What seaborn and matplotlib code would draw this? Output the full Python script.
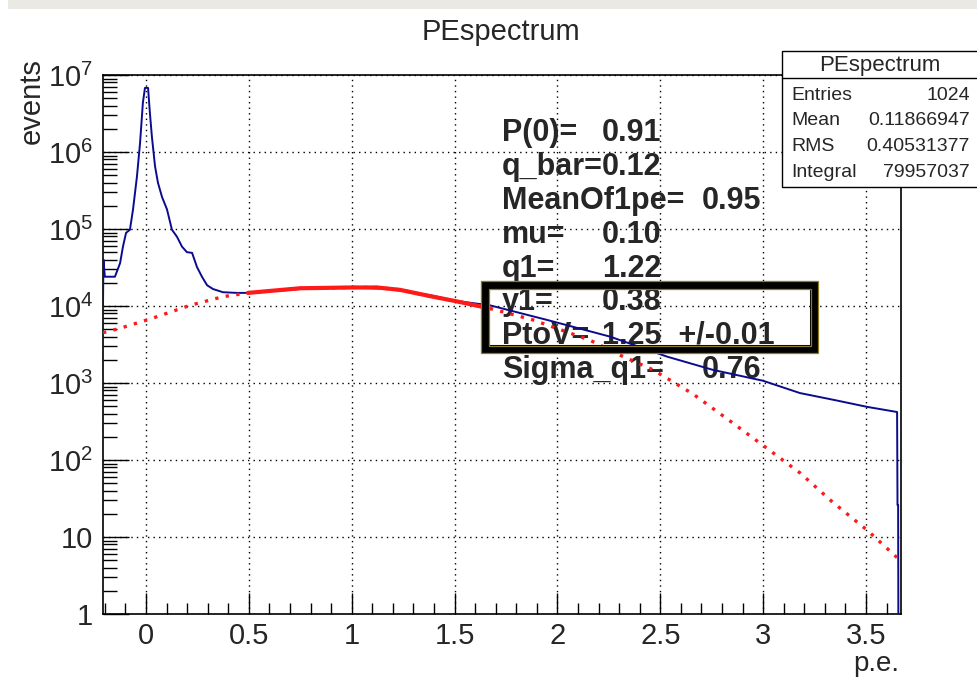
import matplotlib
matplotlib.use("Agg")
import matplotlib.pyplot as plt
import numpy as np
import pandas as pd
import seaborn as sns
from matplotlib.patches import Rectangle
from matplotlib.lines import Line2D
from matplotlib.ticker import FixedLocator, FixedFormatter, LogLocator, MultipleLocator, NullFormatter

# ---------------- data ----------------
hist_x = [-0.209, -0.207, -0.200, -0.151, -0.126, -0.112, -0.097, -0.078, -0.063, -0.044,
          -0.029, -0.015, -0.005, 0.010, 0.019, 0.029, 0.044, 0.058, 0.078, 0.102,
          0.126, 0.151, 0.175, 0.199, 0.224, 0.248, 0.272, 0.297, 0.326, 0.374,
          0.442, 0.496, 0.60, 0.80, 1.00, 1.20, 1.40, 1.50, 1.672, 1.949,
          2.256, 2.533, 2.756, 2.999, 3.179, 3.348, 3.505, 3.651, 3.653, 3.656, 3.658]
hist_counts = [1.0e4, 4.0e4, 2.4e4, 2.4e4, 3.6e4, 5.9e4, 8.9e4, 9.8e4, 1.8e5, 4.8e5,
               1.3e6, 4.4e6, 6.8e6, 6.8e6, 3.2e6, 1.55e6, 6.5e5, 4.0e5, 2.6e5, 1.8e5,
               9.8e4, 7.9e4, 5.9e4, 5.0e4, 4.9e4, 3.2e4, 2.4e4, 1.86e4, 1.66e4, 1.51e4,
               1.48e4, 1.48e4, 1.55e4, 1.70e4, 1.74e4, 1.66e4, 1.35e4, 1.17e4, 1.02e4, 6.6e3,
               4.0e3, 2.2e3, 1.48e3, 1.07e3, 7.4e2, 6.0e2, 4.9e2, 4.2e2, 26, 26, 0.1]

fit_x = [-0.209, -0.13, 0.029, 0.214, 0.374, 0.496, 0.749, 1.0, 1.123, 1.235,
         1.395, 1.51, 1.672, 1.881, 2.158, 2.304, 2.465, 2.659, 2.854, 2.999,
         3.179, 3.340, 3.505, 3.651]
fit_counts = [4.5e3, 5.1e3, 6.9e3, 1.02e4, 1.32e4, 1.48e4, 1.70e4, 1.74e4, 1.74e4, 1.62e4,
              1.32e4, 1.15e4, 9.3e3, 6.6e3, 3.6e3, 2.3e3, 1.48e3, 7.2e2, 3.0e2, 1.55e2,
              68, 28, 12.3, 5.4]

x_ticks = [0, 0.5, 1, 1.5, 2, 2.5, 3, 3.5]
x_tick_labels = ["0", "0.5", "1", "1.5", "2", "2.5", "3", "3.5"]
y_ticks = [1, 10, 1e2, 1e3, 1e4, 1e5, 1e6, 1e7]
y_tick_labels = ["1", "10", r"$\mathregular{10^{2}}$", r"$\mathregular{10^{3}}$",
                 r"$\mathregular{10^{4}}$", r"$\mathregular{10^{5}}$",
                 r"$\mathregular{10^{6}}$", r"$\mathregular{10^{7}}$"]

fit_labels = ["P(0)=", "q_bar=", "MeanOf1pe=", "mu=", "q1=", "y1=", "PtoV=", "Sigma_q1="]
fit_values = ["0.91", "0.12", "0.95", "0.10", "1.22", "0.38", "1.25  +/-0.01", "0.76"]

stats_title = "PEspectrum"
stats_labels = ["Entries", "Mean", "RMS", "Integral"]
stats_values = ["1024", "0.11866947", "0.40531377", "79957037"]

title = "PEspectrum"
x_label = "p.e."
y_label = "events"

# ---------------- style ----------------
sns.set_theme(style="white")
plt.rcParams["font.family"] = ["Liberation Sans", "DejaVu Sans"]
plt.rcParams["mathtext.fontset"] = "custom"
plt.rcParams["mathtext.rm"] = "Liberation Sans"
plt.rcParams["mathtext.it"] = "Liberation Sans:italic"
plt.rcParams["mathtext.bf"] = "Liberation Sans:bold"

W, H = 977, 680
fig = plt.figure(figsize=(W / 100, H / 100), dpi=100)
fig.patch.set_facecolor("white")


def fx(px):
    return px / W


def fy(py):
    return 1 - py / H


ax = fig.add_axes([fx(103), fy(614), fx(901) - fx(103), fy(75) - fy(614)])
ax.set_facecolor("white")

hist_df = pd.DataFrame({"x": hist_x, "y": hist_counts})
fit_df = pd.DataFrame({"x": fit_x, "y": fit_counts})

sns.lineplot(data=hist_df, x="x", y="y", ax=ax, color="#0b0b8f", linewidth=1.4,
             sort=False, estimator=None, zorder=4)
sns.lineplot(data=fit_df, x="x", y="y", ax=ax, color="#ff1a1a", linewidth=2.4,
             sort=False, estimator=None, zorder=5, linestyle=(0, (1, 2.2)))
flat = fit_df[(fit_df["x"] >= 0.45) & (fit_df["x"] <= 1.70)]
sns.lineplot(data=flat, x="x", y="y", ax=ax, color="#ff1a1a", linewidth=3.0,
             sort=False, estimator=None, zorder=5)

ax.set_yscale("log")
ax.set_xlim(-0.209, 3.670)
ax.set_ylim(1, 1e7)
ax.set_xlabel("")
ax.set_ylabel("")

ax.xaxis.set_major_locator(FixedLocator(x_ticks))
ax.xaxis.set_major_formatter(FixedFormatter(x_tick_labels))
ax.xaxis.set_minor_locator(MultipleLocator(0.1))
ax.yaxis.set_major_locator(FixedLocator(y_ticks))
ax.yaxis.set_major_formatter(FixedFormatter(y_tick_labels))
ax.yaxis.set_minor_locator(LogLocator(base=10, subs=np.arange(2, 10), numticks=20))
ax.yaxis.set_minor_formatter(NullFormatter())

ax.tick_params(axis="both", which="both", direction="in", left=True, bottom=True,
               right=False, top=False, color="black", width=1.0)
ax.tick_params(axis="x", which="major", length=15, pad=6, labelsize=21)
ax.tick_params(axis="x", which="minor", length=8)
ax.tick_params(axis="y", which="major", length=19, pad=7, labelsize=21)
ax.tick_params(axis="y", which="minor", length=10)

ax.grid(True, which="major", color="black", linestyle=(0, (1, 3)), linewidth=1.0)
for s in ax.spines.values():
    s.set_color("black")
    s.set_linewidth(1.2)

# top grey strip (background of the screenshot)
fig.add_artist(Rectangle((fx(8), fy(9)), 1, fy(0) - fy(9), transform=fig.transFigure,
                         facecolor="#ebe9e3", edgecolor="none"))

# titles
fig.text(fx(501), fy(32), title, ha="center", va="center", fontsize=21)
fig.text(fx(32), fy(58), y_label, rotation=90, ha="center", va="top", fontsize=21)
fig.text(fx(899), fy(671), x_label, ha="right", va="baseline", fontsize=20)

# fit result text (below the curves)
baselines = [141, 175, 209, 243, 277, 310, 344, 378]
value_x = [602, 602, 702, 602, 602, 602, 602, 702]
for lab, val, by, vx in zip(fit_labels, fit_values, baselines, value_x):
    ax.text(fx(502), fy(by), lab, transform=fig.transFigure, fontsize=22,
            fontweight="bold", ha="left", va="baseline", zorder=2, clip_on=False)
    ax.text(fx(vx), fy(by), val, transform=fig.transFigure, fontsize=22,
            fontweight="bold", ha="left", va="baseline", zorder=2, clip_on=False)

# framed box around y1 / PtoV
ax.add_patch(Rectangle((fx(485), fy(349)), fx(814) - fx(485), fy(285) - fy(349),
                       transform=fig.transFigure, facecolor="none", edgecolor="black",
                       linewidth=5.8, zorder=6, clip_on=False))
ax.add_patch(Rectangle((fx(481), fy(353)), fx(818) - fx(481), fy(281) - fy(353),
                       transform=fig.transFigure, facecolor="none", edgecolor="#8c7d22",
                       linewidth=0.9, zorder=7, clip_on=False))
ax.add_patch(Rectangle((fx(488.5), fy(345.5)), fx(810.5) - fx(488.5), fy(288.5) - fy(345.5),
                       transform=fig.transFigure, facecolor="none", edgecolor="#8c7d22",
                       linewidth=0.9, zorder=7, clip_on=False))

# stats box
fig.add_artist(Rectangle((fx(782), fy(187)), fx(985) - fx(782), fy(51) - fy(187),
                         transform=fig.transFigure, facecolor="white", edgecolor="black",
                         linewidth=1.0, zorder=10))
fig.add_artist(Line2D([fx(782), fx(985)], [fy(78), fy(78)], transform=fig.transFigure,
                      color="black", linewidth=1.0, zorder=11))
fig.text(fx(880), fy(65), stats_title, ha="center", va="center", fontsize=16, zorder=12)
for i, (lab, val) in enumerate(zip(stats_labels, stats_values)):
    yy = 95 + i * 25.7
    fig.text(fx(791), fy(yy), lab, ha="left", va="center", fontsize=14, zorder=12)
    fig.text(fx(970), fy(yy), val, ha="right", va="center", fontsize=14, zorder=12)

fig.savefig("out.png", dpi=100, facecolor="white")
